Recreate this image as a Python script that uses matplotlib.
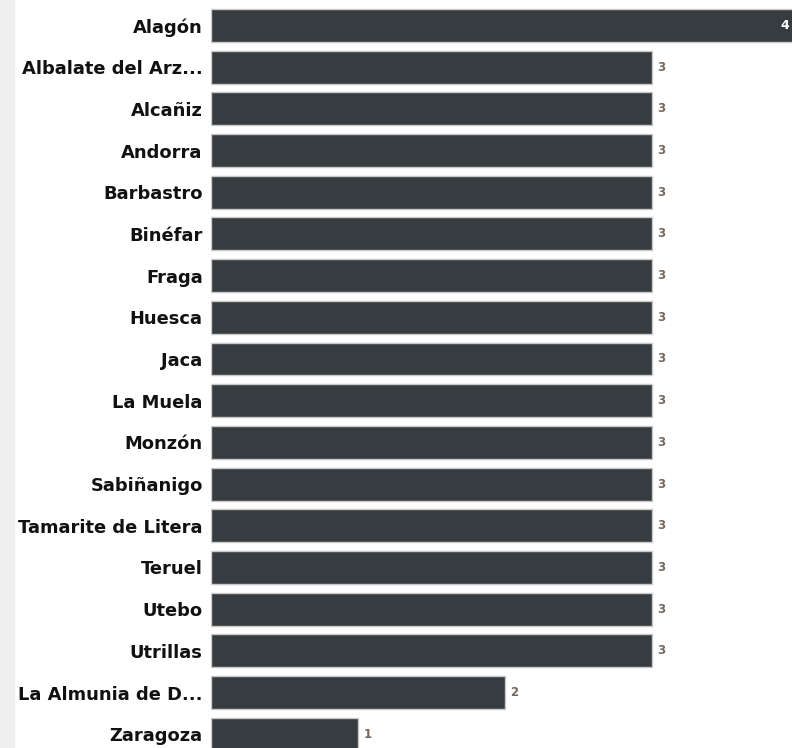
import matplotlib
matplotlib.use("Agg")
import matplotlib.pyplot as plt
from matplotlib.patches import Rectangle

# towns and their counts, top to bottom
towns = ["Alagón", "Albalate del Arz...", "Alcañiz", "Andorra", "Barbastro",
         "Binéfar", "Fraga", "Huesca", "Jaca", "La Muela", "Monzón",
         "Sabiñanigo", "Tamarite de Litera", "Teruel", "Utebo", "Utrillas",
         "La Almunia de D...", "Zaragoza"]
counts = [4, 3, 3, 3, 3, 3, 3, 3, 3, 3, 3, 3, 3, 3, 3, 3, 2, 1]

bar_color = "#363c3f"
label_color = "#76685c"

fig = plt.figure(figsize=(7.92, 7.48), dpi=100)
# faint panel strip on the far left
fig.patches.append(Rectangle((0, 0), 14 / 792, 1, transform=fig.transFigure,
                             color="#eeeeee", zorder=0))

ax = fig.add_axes([211 / 792, 0, 581 / 792, 1])
ypos = list(range(len(towns)))
ax.barh(ypos, counts, height=0.79, color=bar_color,
        edgecolor="#c9c9c9", linewidth=1.0)

ax.set_xlim(0, 3.952)
ax.set_ylim(17.33, -0.61)

for y, v in zip(ypos, counts):
    if v >= 4:
        ax.annotate(str(v), (v, y), xytext=(-7, 0), textcoords="offset points",
                    ha="right", va="center", color="white", fontsize=9,
                    fontweight="bold", annotation_clip=False)
    else:
        ax.annotate(str(v), (v, y), xytext=(4, 0), textcoords="offset points",
                    ha="left", va="center", color=label_color, fontsize=8.5,
                    fontweight="bold")

ax.set_yticks(ypos)
ax.set_yticklabels(towns, fontsize=12.9, fontweight="bold",
                   family="DejaVu Sans", color="#111111")
ax.tick_params(axis="y", length=0, pad=6)
ax.set_xticks([])
for s in ax.spines.values():
    s.set_visible(False)
ax.patch.set_alpha(0)

fig.savefig("out.png", dpi=100)
